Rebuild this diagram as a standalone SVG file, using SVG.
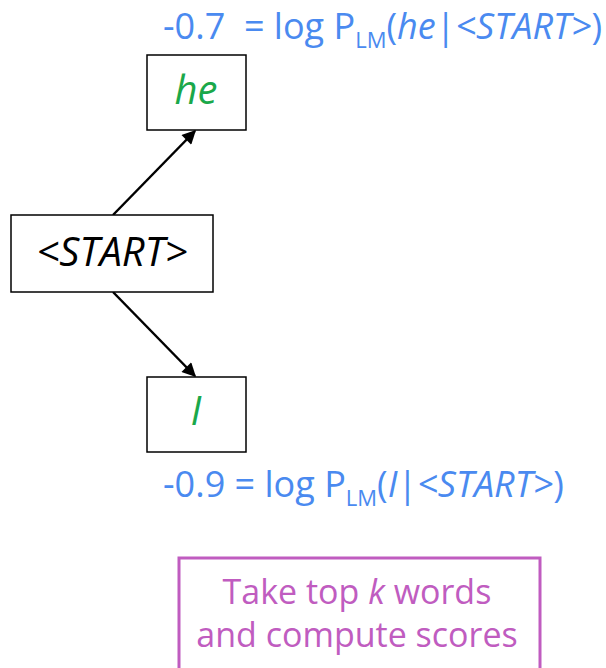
<svg xmlns="http://www.w3.org/2000/svg" width="606" height="668" viewBox="0 0 606 668">
<style>
.box{fill:#fff;stroke:#000;stroke-width:1.5}
.node{font-family:"Open Sans","Liberation Sans",sans-serif;font-style:italic;font-size:40px;text-anchor:middle}
.lbl{font-family:"Open Sans","Liberation Sans",sans-serif;font-size:36px;fill:#4a8af0;white-space:pre}
.sub{font-size:22px}
.it{font-style:italic}
.conn{stroke:#000;stroke-width:2.5;fill:none;marker-end:url(#ah)}
.note{font-family:"Open Sans","Liberation Sans",sans-serif;font-size:34px;fill:#c05cc0;text-anchor:middle}
</style>
<defs>
<marker id="ah" viewBox="0 0 10 10" refX="9" refY="5" markerWidth="6" markerHeight="5.5" orient="auto" markerUnits="strokeWidth">
<path d="M0,0 L10,5 L0,10 z" fill="#000"/>
</marker>
</defs>
<g id="connectors">
<line class="conn" x1="113" y1="215" x2="195" y2="131"/>
<line class="conn" x1="113" y1="292" x2="195" y2="376"/>
</g>
<g id="node-start">
<rect class="box" x="11" y="215" width="202" height="77"/>
<text class="node" x="112" y="266" fill="#000">&lt;START&gt;</text>
</g>
<g id="node-he">
<rect class="box" x="147" y="55" width="99" height="75"/>
<text class="node" x="196" y="104" fill="#1aa84a">he</text>
</g>
<g id="node-i">
<rect class="box" x="147" y="377" width="99" height="75"/>
<text class="node" x="196" y="425" fill="#1aa84a">I</text>
</g>
<g id="label-he">
<text class="lbl" x="163" y="39">-0.7  = log P<tspan class="sub" dy="9">LM</tspan><tspan dy="-9">(</tspan><tspan class="it">he</tspan>|<tspan class="it">&lt;START&gt;</tspan>)</text>
</g>
<g id="label-i">
<text class="lbl" x="163" y="497">-0.9 = log P<tspan class="sub" dy="9">LM</tspan><tspan dy="-9">(</tspan><tspan class="it">I</tspan>|<tspan class="it">&lt;START&gt;</tspan>)</text>
</g>
<g id="note">
<rect x="179" y="558" width="361" height="120" fill="#fff" stroke="#c05cc0" stroke-width="3"/>
<text class="note" x="357" y="604">Take top <tspan font-style="italic">k</tspan> words</text>
<text class="note" x="357" y="647">and compute scores</text>
</g>
</svg>
